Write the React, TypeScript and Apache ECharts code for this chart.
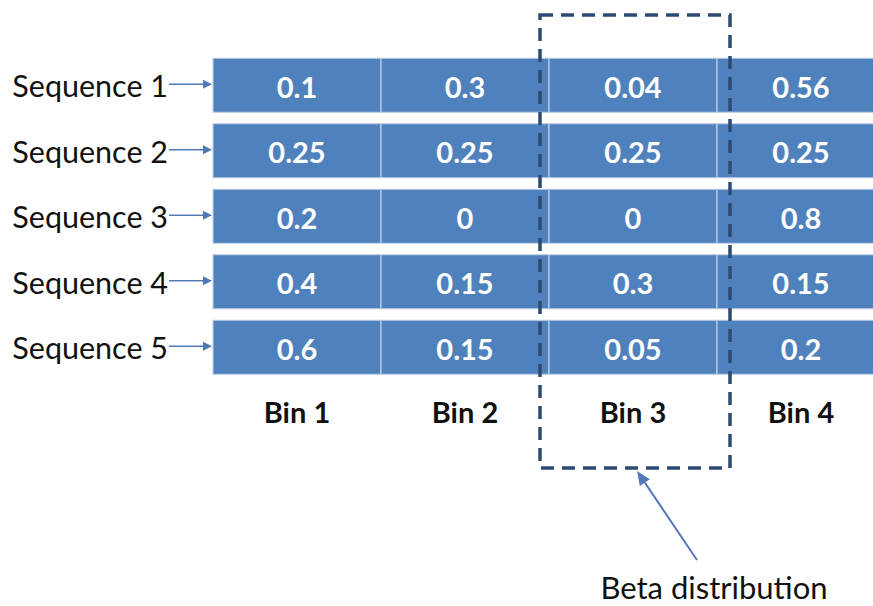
import React, { useEffect, useRef } from "react";
import * as echarts from "echarts";

const bins = ["Bin 1", "Bin 2", "Bin 3", "Bin 4"];
const sequences = ["Sequence 1", "Sequence 2", "Sequence 3", "Sequence 4", "Sequence 5"];
const seq1 = [0.1, 0.3, 0.04, 0.56];
const seq2 = [0.25, 0.25, 0.25, 0.25];
const seq3 = [0.2, 0, 0, 0.8];
const seq4 = [0.4, 0.15, 0.3, 0.15];
const seq5 = [0.6, 0.15, 0.05, 0.2];
const highlightBin = "Bin 3";
const annotationText = "Beta distribution";

const FONT = "Lato, 'Liberation Sans', sans-serif";
const CELL = "#4F81BD";
const ARROW = "#5279B5";

export default function App() {
  const ref = useRef<HTMLDivElement>(null);
  useEffect(() => {
    document.body.style.margin = "0";
    const chart = echarts.init(ref.current!, undefined, { renderer: "svg" });
    const rows = [seq1, seq2, seq3, seq4, seq5];
    const data: any[] = [];
    rows.forEach((r, yi) => r.forEach((v, xi) => data.push([xi, yi, v])));

    chart.setOption({
      animation: false,
      backgroundColor: "#ffffff",
      grid: { left: 213, right: -12, top: 52.5, bottom: 226, containLabel: false, outerBoundsMode: "none" },
      xAxis: {
        type: "category",
        data: bins,
        position: "bottom",
        axisLine: { show: false },
        axisTick: { show: false },
        splitLine: { show: false },
        axisLabel: { margin: 17, fontFamily: FONT, fontSize: 29, fontWeight: "bold", color: "#111111" },
      },
      yAxis: {
        type: "category",
        data: sequences,
        inverse: true,
        axisLine: { show: false },
        axisTick: { show: false },
        splitLine: { show: false },
        axisLabel: { margin: 45, fontFamily: FONT, fontSize: 30.5, color: "#111111" },
      },
      series: [
        {
          type: "custom",
          clip: false,
          data,
          renderItem: (params: any, api: any) => {
            const xi = api.value(0);
            const yi = api.value(1);
            const v = api.value(2);
            const c = api.coord([xi, yi]);
            const s = api.size([1, 1]);
            const gapY = 5.75;
            const x0 = c[0] - s[0] / 2;
            const y0 = c[1] - s[1] / 2 + gapY;
            const h = s[1] - 2 * gapY;
            const children: any[] = [
              {
                type: "rect",
                shape: { x: x0, y: y0, width: s[0], height: h },
                style: { fill: CELL, stroke: "#BCCDE6", lineWidth: 1.2 },
              },
              {
                type: "text",
                style: {
                  text: String(v),
                  x: c[0],
                  y: c[1] + 1,
                  align: "center",
                  verticalAlign: "middle",
                  fill: "#ffffff",
                  fontFamily: FONT,
                  fontSize: 29,
                  fontWeight: "bold",
                },
              },
            ];
            if (xi === 0) {
              const cy = c[1] - 1;
              children.push(
                {
                  type: "line",
                  shape: { x1: x0 - 44, y1: cy, x2: x0 - 8, y2: cy },
                  style: { stroke: ARROW, lineWidth: 1.5 },
                },
                {
                  type: "polygon",
                  shape: { points: [[x0 - 1, cy], [x0 - 10, cy - 4.5], [x0 - 10, cy + 4.5]] },
                  style: { fill: ARROW },
                }
              );
            }
            return { type: "group", children };
          },
        },
        {
          type: "custom",
          clip: false,
          silent: true,
          data: [[bins.indexOf(highlightBin), 0]],
          renderItem: (params: any, api: any) => {
            const c = api.coord([api.value(0), api.value(1)]);
            const s = api.size([1, 1]);
            const lastRow = api.coord([api.value(0), sequences.length - 1]);
            const left = c[0] - s[0] / 2 - 9;
            const right = c[0] + s[0] / 2 + 13;
            const top = c[1] - s[1] / 2 - 37.5;
            const bottom = lastRow[1] + s[1] / 2 + 88;
            const hx = c[0] + 4;
            const hy = bottom + 3;
            const tx = c[0] + 64;
            const ty = bottom + 92;
            const ang = Math.atan2(hy - ty, hx - tx);
            const L = 14;
            const W = 6;
            const bx = hx - L * Math.cos(ang);
            const by = hy - L * Math.sin(ang);
            const px = -Math.sin(ang) * W;
            const py = Math.cos(ang) * W;
            return {
              type: "group",
              children: [
                {
                  type: "rect",
                  shape: { x: left, y: top, width: right - left, height: bottom - top },
                  style: { fill: "none", stroke: "#2D4A72", lineWidth: 3.5, lineDash: [13, 8] },
                },
                {
                  type: "line",
                  shape: { x1: tx, y1: ty, x2: bx, y2: by },
                  style: { stroke: ARROW, lineWidth: 2 },
                },
                {
                  type: "polygon",
                  shape: { points: [[hx, hy], [bx + px, by + py], [bx - px, by - py]] },
                  style: { fill: ARROW },
                },
                {
                  type: "text",
                  style: {
                    text: annotationText,
                    x: c[0] + 81,
                    y: ty + 27,
                    align: "center",
                    verticalAlign: "middle",
                    fill: "#111111",
                    fontFamily: FONT,
                    fontSize: 31,
                  },
                },
              ],
            };
          },
        },
      ],
    });
    return () => chart.dispose();
  }, []);
  return <div ref={ref} style={{ width: 873, height: 606 }} />;
}
